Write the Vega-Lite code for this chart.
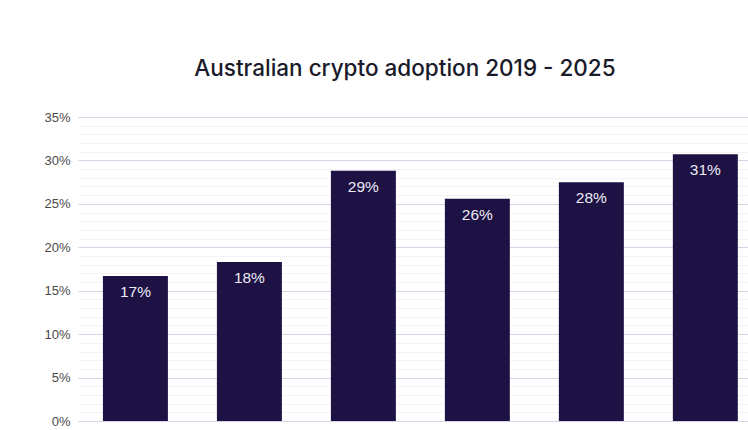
{
  "$schema": "https://vega.github.io/schema/vega-lite/v6.json",
  "autosize": {"type": "none"},
  "width": 670,
  "height": 304,
  "padding": {"left": 78, "top": 117, "right": 0, "bottom": 9},
  "background": "#ffffff",
  "title": {
    "text": "Australian crypto adoption 2019 - 2025",
    "font": "Inter",
    "fontSize": 22.5,
    "fontWeight": 500,
    "color": "#1a1a2a",
    "anchor": "middle",
    "dx": -8,
    "offset": 31
  },
  "config": {"view": {"stroke": null}},
  "data": {
    "values": [
      {"year": "2019", "adoption": 16.7, "label": "17%"},
      {"year": "2020", "adoption": 18.3, "label": "18%"},
      {"year": "2021", "adoption": 28.8, "label": "29%"},
      {"year": "2022", "adoption": 25.6, "label": "26%"},
      {"year": "2023", "adoption": 27.5, "label": "28%"},
      {"year": "2025", "adoption": 30.7, "label": "31%"}
    ]
  },
  "encoding": {
    "x": {
      "field": "year",
      "type": "nominal",
      "axis": null,
      "scale": {"paddingInner": 0.43, "paddingOuter": 0.154, "align": 0.71}
    }
  },
  "layer": [
    {
      "mark": {"type": "bar", "opacity": 0},
      "encoding": {
        "y": {
          "field": "adoption",
          "type": "quantitative",
          "scale": {"domain": [0, 35], "nice": false},
          "axis": {
            "orient": "left",
            "values": [0,1,2,3,4,5,6,7,8,9,10,11,12,13,14,15,16,17,18,19,20,21,22,23,24,25,26,27,28,29,30,31,32,33,34,35],
            "labels": false,
            "ticks": false,
            "domain": false,
            "title": null,
            "grid": true,
            "gridColor": "#f3f3f6",
            "gridWidth": 1
          }
        }
      }
    },
    {
      "mark": {"type": "bar", "color": "#1e1143"},
      "encoding": {
        "y": {
          "field": "adoption",
          "type": "quantitative",
          "scale": {"domain": [0, 35], "nice": false},
          "axis": {
            "orient": "left",
            "values": [0, 5, 10, 15, 20, 25, 30, 35],
            "labelExpr": "datum.value + '%'",
            "labelFont": "Liberation Sans",
            "labelFontSize": 13,
            "labelColor": "#4a4a4a",
            "labelPadding": 8,
            "ticks": false,
            "domain": false,
            "title": null,
            "grid": true,
            "gridColor": "#d4d4e4",
            "gridWidth": 1.2
          }
        }
      }
    },
    {
      "mark": {
        "type": "text",
        "baseline": "top",
        "dy": 9,
        "font": "Liberation Sans",
        "fontSize": 15.5,
        "color": "#ececf4"
      },
      "encoding": {
        "y": {"field": "adoption", "type": "quantitative", "axis": null},
        "text": {"field": "label"}
      }
    }
  ],
  "resolve": {"axis": {"y": "independent"}}
}
